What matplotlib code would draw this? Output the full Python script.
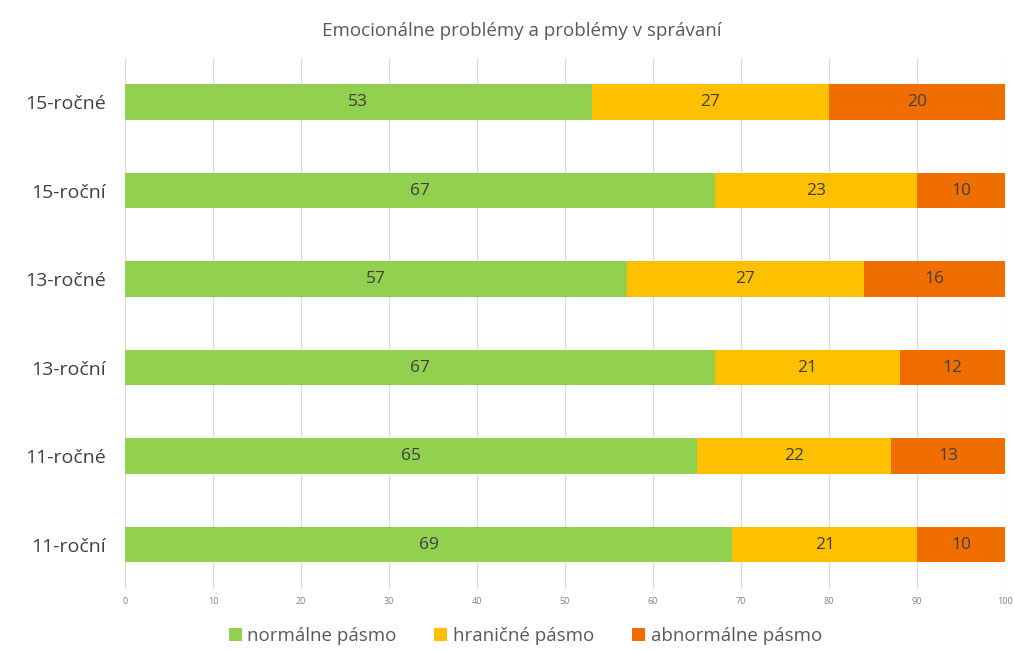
import matplotlib.pyplot as plt
import numpy as np

groups = ['15-ročné', '15-roční', '13-ročné', '13-roční', '11-ročné', '11-roční']
normal = [53, 67, 57, 67, 65, 69]
border = [27, 23, 27, 21, 22, 21]
abnormal = [20, 10, 16, 12, 13, 10]
series_names = ['normálne pásmo', 'hraničné pásmo', 'abnormálne pásmo']
colors = ['#92D050', '#FFC000', '#F06E00']

plt.rcParams['font.family'] = ['Open Sans', 'DejaVu Sans']

fig = plt.figure(figsize=(10.14, 6.5), dpi=100)
ax = fig.add_axes([0.1233, 0.094, 0.868, 0.817])

y = np.arange(len(groups))
left = np.zeros(len(groups))
for vals, name, c in zip([normal, border, abnormal], series_names, colors):
    bars = ax.barh(y, vals, left=left, height=0.4, color=c, label=name, zorder=3)
    for b, v in zip(bars, vals):
        ax.text(b.get_x() + b.get_width() / 2, b.get_y() + b.get_height() / 2, str(v),
                ha='center', va='center', fontsize=12.5, color='#404040', zorder=4)
    left += np.array(vals)

ax.set_xlim(0, 100)
ax.set_ylim(len(groups) - 0.5, -0.5)
ax.set_yticks(y)
ax.set_yticklabels(groups, fontsize=14, color='#404040')
ax.set_xticks(np.arange(0, 101, 10))
ax.tick_params(axis='x', labelsize=6.5, colors='#808080', length=0, pad=6)
ax.tick_params(axis='y', length=0, pad=14)
ax.grid(axis='x', color='#d9d9d9', linewidth=0.8, zorder=0)
for s in ax.spines.values():
    s.set_visible(False)

fig.text(0.515, 0.953, 'Emocionálne problémy a problémy v správaní', fontsize=13.5,
         color='#595959', ha='center', va='center')

fig.legend(*ax.get_legend_handles_labels(), loc='center', bbox_to_anchor=(0.518, 0.022),
           ncol=3, frameon=False, fontsize=13.5, handlelength=0.7, handleheight=0.7,
           columnspacing=2.0, handletextpad=0.3, labelcolor='#595959')

fig.savefig('out.png', dpi=100)
